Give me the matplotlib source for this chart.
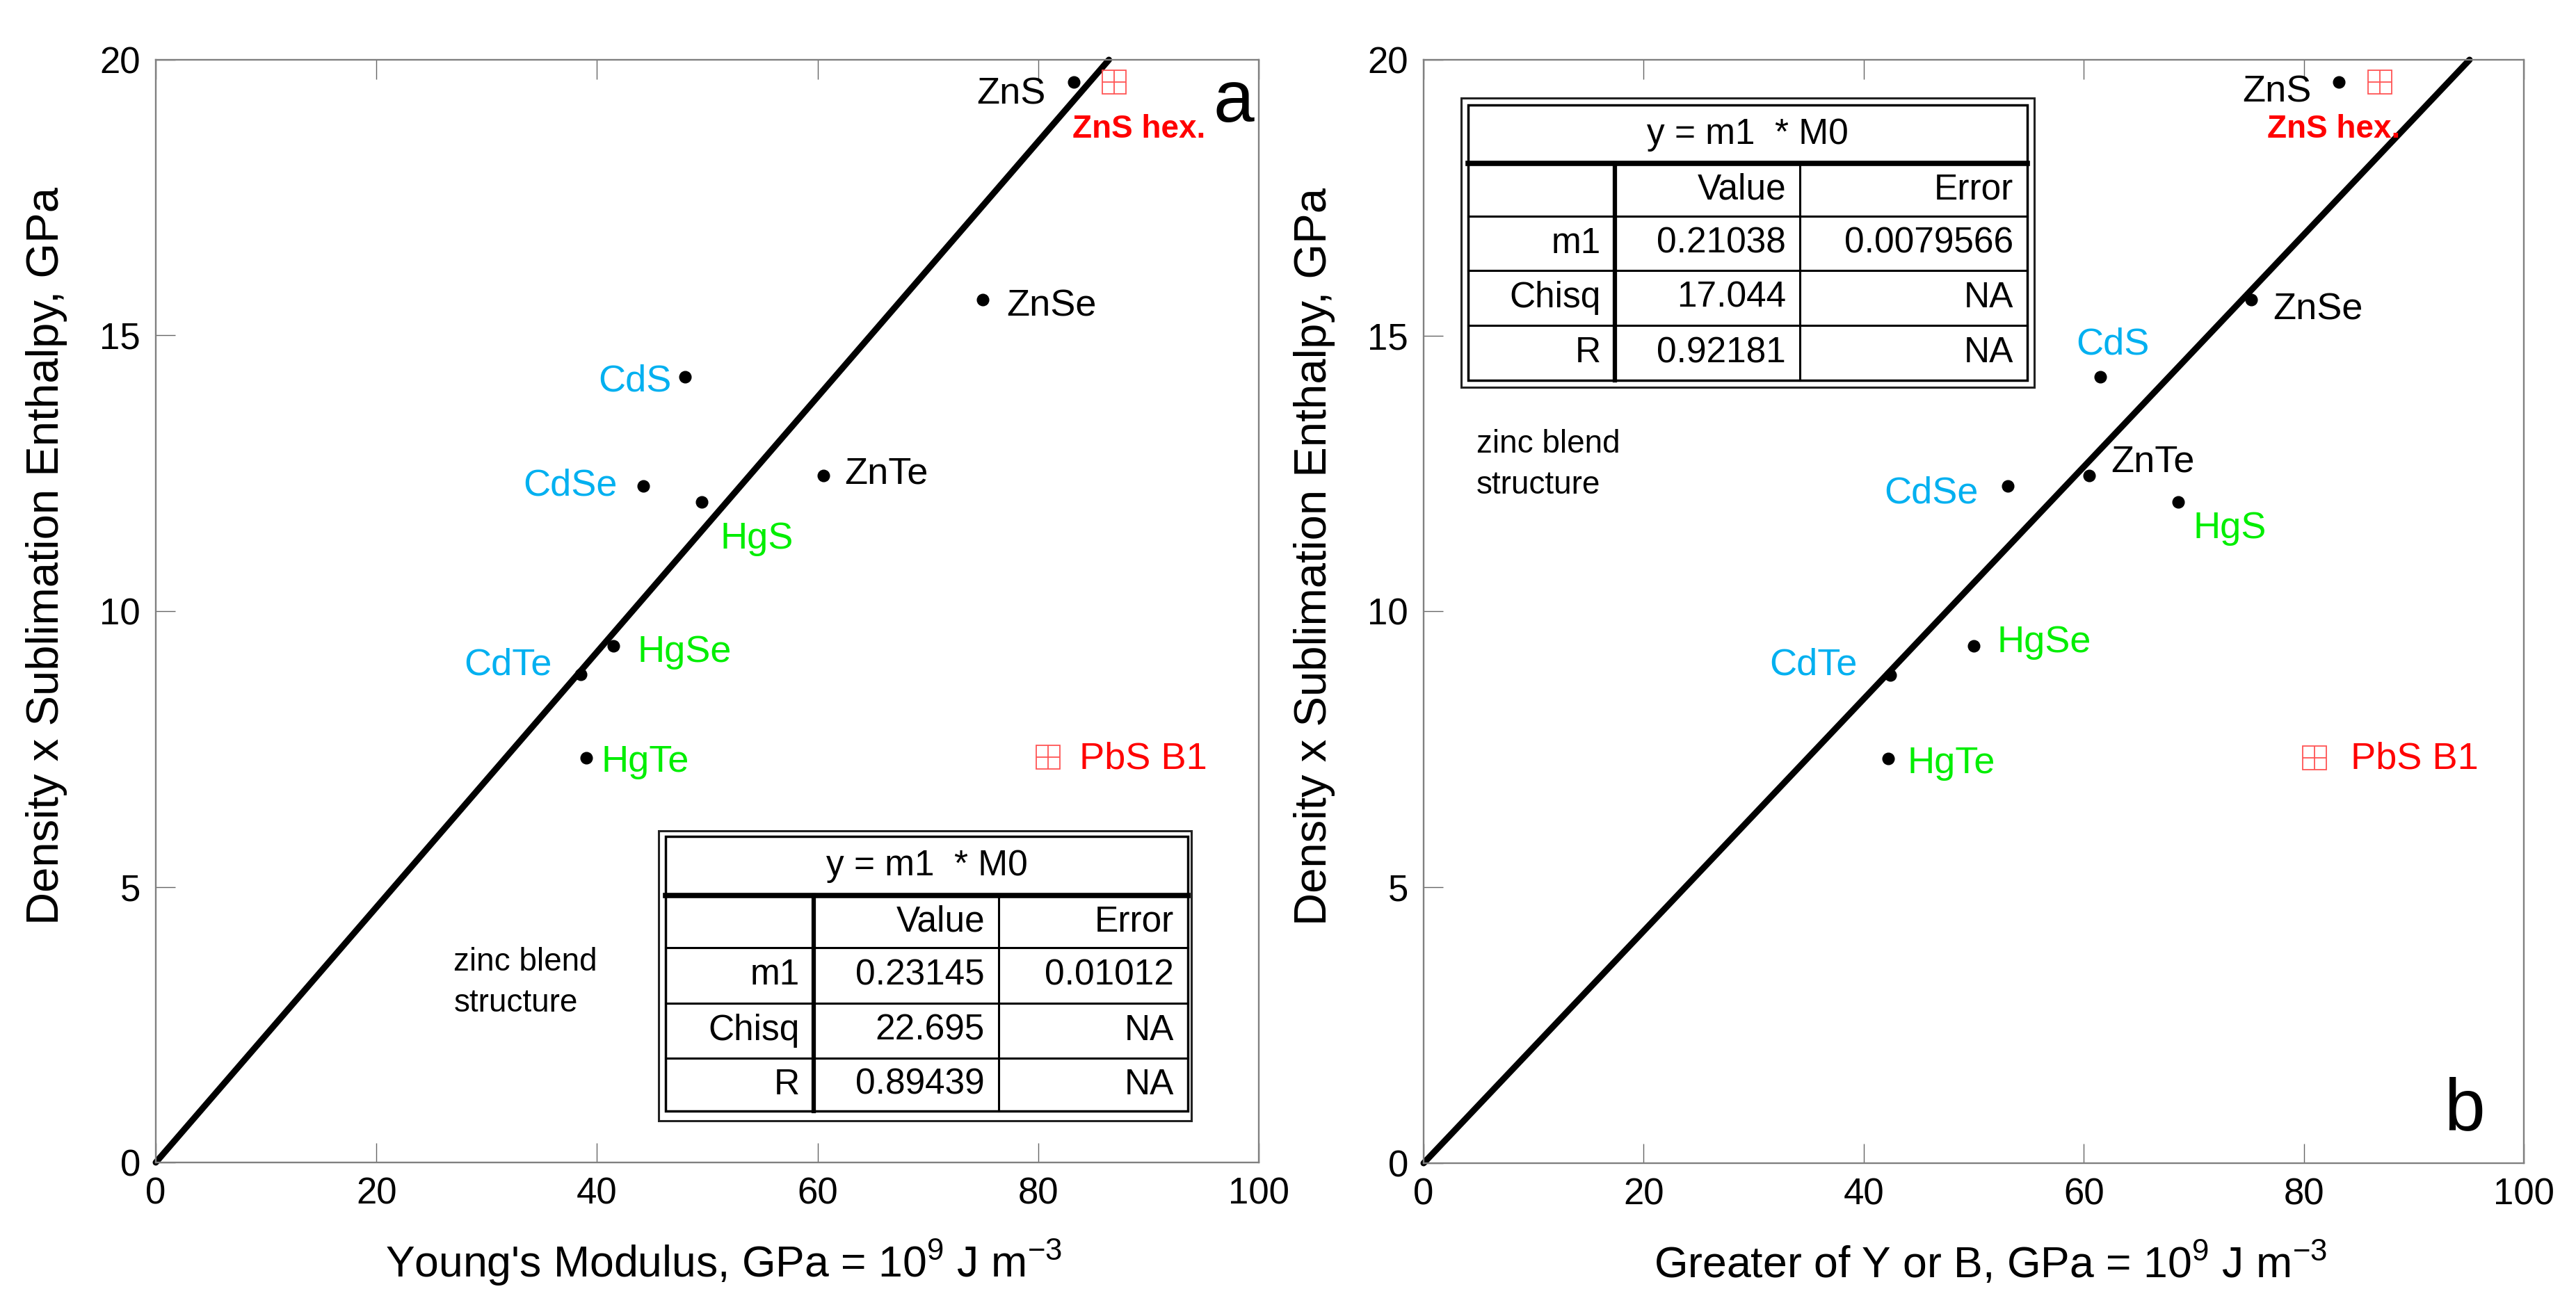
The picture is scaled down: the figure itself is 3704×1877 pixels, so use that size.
import matplotlib
matplotlib.use("Agg")
import matplotlib.pyplot as plt
from matplotlib.lines import Line2D
from matplotlib.patches import Rectangle

# ---------------- data ----------------
compounds = ["ZnS", "ZnSe", "CdS", "CdSe", "HgS", "ZnTe", "HgSe", "CdTe", "HgTe"]
density_x_sublimation = [19.60, 15.65, 14.25, 12.27, 11.98, 12.46, 9.37, 8.85, 7.34]
youngs_modulus = [83.2, 75.0, 48.0, 44.2, 49.5, 60.5, 41.5, 38.5, 39.0]
greater_y_or_b = [83.2, 75.2, 61.5, 53.1, 68.6, 60.5, 50.0, 42.4, 42.2]

outliers = ["ZnS hex.", "PbS B1"]
outlier_y = [19.60, 7.35]
outlier_x_young = [86.9, 80.9]
outlier_x_greater = [86.9, 81.0]

slope_a = 0.23145
slope_b = 0.21038

fit_header = "y = m1  * M0"
table_a = [["", "Value", "Error"],
           ["m1", "0.23145", "0.01012"],
           ["Chisq", "22.695", "NA"],
           ["R", "0.89439", "NA"]]
table_b = [["", "Value", "Error"],
           ["m1", "0.21038", "0.0079566"],
           ["Chisq", "17.044", "NA"],
           ["R", "0.92181", "NA"]]

x_ticks = [0, 20, 40, 60, 80, 100]
y_ticks = [0, 5, 10, 15, 20]

# ---------------- style ----------------
W, H = 3705, 1877
plt.rcParams['font.family'] = ['Liberation Sans', 'DejaVu Sans']
plt.rcParams['mathtext.fontset'] = 'custom'
plt.rcParams['mathtext.rm'] = 'Liberation Sans'
plt.rcParams['mathtext.it'] = 'Liberation Sans:italic'
plt.rcParams['mathtext.bf'] = 'Liberation Sans:bold'

BLUE = '#00b0f0'
GREEN = '#00ee00'
RED = '#ff0000'
label_colors = {"ZnS": 'black', "ZnSe": 'black', "ZnTe": 'black',
                "CdS": BLUE, "CdSe": BLUE, "CdTe": BLUE,
                "HgS": GREEN, "HgSe": GREEN, "HgTe": GREEN}

# label offsets in pixels: (dx, dy, ha)
offs_a = {"ZnS": (-40, -18, 'right'), "ZnSe": (34, -10, 'left'), "CdS": (-20, -7, 'right'),
          "CdSe": (-37, 0, 'right'), "HgS": (26, -53, 'left'), "ZnTe": (31, 2, 'left'),
          "HgSe": (34, -9, 'left'), "CdTe": (-41, 14, 'right'), "HgTe": (22, -6, 'left')}
offs_b = {"ZnS": (-40, -15, 'right'), "ZnSe": (32, -14, 'left'), "CdS": (18, 47, 'center'),
          "CdSe": (-42, -10, 'right'), "HgS": (21, -38, 'left'), "ZnTe": (31, 20, 'left'),
          "HgSe": (34, 5, 'left'), "CdTe": (-47, 14, 'right'), "HgTe": (28, -7, 'left')}
out_offs_a = {"ZnS hex.": (35, -68, 'center'), "PbS B1": (45, -2, 'left')}
out_offs_b = {"ZnS hex.": (-66, -68, 'center'), "PbS B1": (52, -2, 'left')}

fig = plt.figure(figsize=(W / 100, H / 100), dpi=100)
axA = fig.add_axes([224 / W, 1 - 1672 / H, 1586 / W, 1586 / H])
axB = fig.add_axes([2047 / W, 1 - 1673 / H, 1582 / W, 1587 / H])


def setup(ax, xs, slope, offs, out_xs, out_offs, xlabel):
    ax.set_xlim(0, 100)
    ax.set_ylim(0, 20)
    ax.set_xticks(x_ticks)
    ax.set_yticks(y_ticks)
    for s in ax.spines.values():
        s.set_color('#808080')
        s.set_linewidth(1.7)
    ax.tick_params(direction='in', length=20, width=1.0, color='#666666',
                   top=True, right=False, labelsize=38)
    ax.tick_params(axis='x', pad=15)
    ax.tick_params(axis='y', pad=16)
    # fit line
    x_end = min(100, 20 / slope)
    ax.plot([0, x_end], [0, slope * x_end], color='black', lw=6.5,
            solid_capstyle='round', zorder=2, clip_on=False)
    # points
    ax.plot(xs, density_x_sublimation, 'o', color='black', ms=12, zorder=3)
    for name, x, y in zip(compounds, xs, density_x_sublimation):
        dx, dy, ha = offs[name]
        ax.annotate(name, (x, y), xytext=(dx, dy), textcoords='offset pixels',
                    ha=ha, va='center', fontsize=39, color=label_colors[name])
    # outliers
    ax.plot(out_xs, outlier_y, 's', ms=25, mfc='none', mec='#ff5555', mew=1.3, zorder=3)
    ax.plot(out_xs, outlier_y, '+', ms=25, color='#ff5555', mew=1.3, zorder=3)
    for name, x, y in zip(outliers, out_xs, outlier_y):
        dx, dy, ha = out_offs[name]
        bold = name == "ZnS hex."
        ax.annotate(name, (x, y), xytext=(dx, dy), textcoords='offset pixels',
                    ha=ha, va='center', fontsize=33 if bold else 39,
                    fontweight='bold' if bold else 'normal', color=RED)
    ax.set_xlabel(xlabel, fontsize=45)
    ax.xaxis.label.set_verticalalignment('baseline')
    ax.xaxis.set_label_coords(0.515, -0.104)
    ax.set_ylabel('Density x Sublimation Enthalpy, GPa', fontsize=47)
    ax.yaxis.label.set_verticalalignment('center')
    ax.yaxis.set_label_coords(-0.099, 0.55)


setup(axA, youngs_modulus, slope_a, offs_a, outlier_x_young, out_offs_a,
      "Young's Modulus, GPa = 10$^{9}$ J m$^{-3}$")
setup(axB, greater_y_or_b, slope_b, offs_b, outlier_x_greater, out_offs_b,
      "Greater of Y or B, GPa = 10$^{9}$ J m$^{-3}$")

axA.text(0.977, 0.944, 'a', transform=axA.transAxes, fontsize=76, ha='center', va='baseline')
axB.text(0.946, 0.030, 'b', transform=axB.transAxes, fontsize=76, ha='center', va='baseline')

axA.text(0.27, 0.163, 'zinc blend\nstructure', transform=axA.transAxes, fontsize=33,
         ha='left', va='center', linespacing=1.42)
axB.text(0.048, 0.633, 'zinc blend\nstructure', transform=axB.transAxes, fontsize=33,
         ha='left', va='center', linespacing=1.42)


# ---------------- fit tables (figure pixel layout) ----------------
def fx(x):
    return x / W


def fy(y):
    return 1 - y / H


def fline(x0, y0, x1, y1, lw, color='black'):
    fig.add_artist(Line2D([fx(x0), fx(x1)], [fy(y0), fy(y1)], transform=fig.transFigure,
                          lw=lw, color=color, solid_capstyle='projecting', zorder=5))


def draw_table(outer, inner, header_bottom, cols, rows, cells):
    ox0, oy0, ox1, oy1 = outer
    fig.add_artist(Rectangle((fx(ox0), fy(oy1)), fx(ox1) - fx(ox0), fy(oy0) - fy(oy1),
                             transform=fig.transFigure, facecolor='white',
                             edgecolor='#222222', lw=2.2, zorder=4))
    ix0, iy0, ix1, iy1 = inner
    fig.add_artist(Rectangle((fx(ix0), fy(iy1)), fx(ix1) - fx(ix0), fy(iy0) - fy(iy1),
                             transform=fig.transFigure, facecolor='none',
                             edgecolor='black', lw=2.5, zorder=5))
    # header separator
    fline(ix0, header_bottom, ix1, header_bottom, 5.5)
    # row lines
    for r in rows[1:-1]:
        fline(ix0, r, ix1, r, 2.2)
    # column lines
    fline(cols[1], header_bottom, cols[1], iy1, 4.5)
    fline(cols[2], header_bottom, cols[2], iy1, 2.2)
    fig.text(fx((ix0 + ix1) / 2), fy((iy0 + header_bottom) / 2), fit_header,
             ha='center', va='center', fontsize=37, zorder=6)
    for ri, row in enumerate(cells):
        yc = (rows[ri] + rows[ri + 1]) / 2
        for ci, txt in enumerate(row):
            if txt:
                fig.text(fx(cols[ci + 1] - 20), fy(yc), txt, ha='right', va='center',
                         fontsize=37, zorder=6)


draw_table((947, 1195, 1713, 1612), (957, 1203, 1708, 1598), 1288,
           [957, 1170, 1436, 1708], [1288, 1363, 1443, 1522, 1598], table_a)
draw_table((2101, 141, 2925, 557), (2111, 151, 2915, 547), 235,
           [2111, 2322, 2588, 2915], [235, 311, 389, 468, 547], table_b)

fig.savefig('out.png', dpi=100)
